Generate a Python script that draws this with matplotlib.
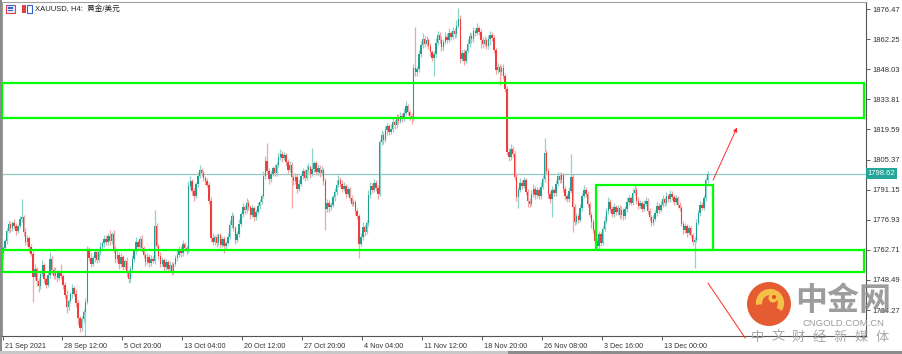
import matplotlib
matplotlib.use('Agg')
import matplotlib.pyplot as plt
from matplotlib.patches import Rectangle, Ellipse, Arc
import matplotlib.transforms as mtransforms

# XAUUSD H4 closes
closes = [
    1763.5, 1767.0, 1771.5, 1774.8, 1772.9, 1775.6, 1774.1, 1771.8, 1773.9, 1777.2,
    1778.4, 1771.0, 1766.3, 1768.2, 1764.0, 1760.8, 1750.1, 1753.5, 1748.2, 1745.6,
    1751.3, 1755.4, 1749.0, 1746.2, 1750.8, 1758.5, 1753.0, 1750.2, 1752.4, 1749.6,
    1751.8, 1750.3, 1746.0, 1741.2, 1735.5, 1738.4, 1741.8, 1744.5, 1742.0, 1737.6,
    1730.5, 1726.0, 1729.8, 1733.5, 1738.0, 1762.5, 1759.0, 1756.2, 1758.7, 1761.5,
    1758.0, 1761.8, 1764.1, 1765.8, 1768.0, 1766.2, 1769.4, 1766.7, 1770.3, 1763.0,
    1758.2, 1760.5, 1756.0, 1759.3, 1754.8, 1757.2, 1752.0, 1749.0, 1753.5, 1758.4,
    1762.0, 1766.2, 1764.0, 1767.8, 1763.5, 1760.1, 1757.0, 1759.4, 1756.3, 1758.5,
    1757.5, 1774.0, 1764.5, 1760.0, 1756.2, 1758.0, 1754.6, 1756.9, 1753.8, 1755.5,
    1752.6, 1756.0, 1758.8, 1760.5, 1763.2, 1761.0, 1765.4, 1763.8, 1762.0, 1793.0,
    1795.2, 1790.5, 1788.0, 1793.6, 1797.8, 1800.3, 1799.0, 1796.5, 1795.0, 1793.5,
    1786.0, 1768.5, 1766.5, 1768.6, 1766.0, 1769.5, 1765.2, 1767.8, 1764.3, 1766.0,
    1769.0, 1774.5, 1778.6, 1773.0, 1767.5, 1770.0, 1775.0, 1779.5, 1783.0, 1781.4,
    1785.0, 1783.0, 1779.2, 1782.4, 1778.0, 1780.6, 1783.5, 1785.5, 1788.0, 1797.8,
    1804.5, 1800.0, 1796.0, 1798.5, 1801.2, 1799.0, 1803.0, 1806.5, 1808.0, 1806.2,
    1807.3, 1804.0, 1800.5, 1803.0, 1797.0, 1795.0, 1797.2, 1791.5, 1794.0, 1797.5,
    1799.8, 1796.8, 1800.5, 1802.0, 1798.6, 1800.9, 1803.5, 1799.5, 1801.6, 1798.8,
    1800.2, 1795.0, 1782.0, 1785.0, 1782.8, 1784.0, 1787.5, 1790.0, 1793.5, 1795.8,
    1794.0, 1791.5, 1793.0, 1789.0, 1791.4, 1787.2, 1784.5, 1785.5, 1781.0, 1778.6,
    1765.5, 1769.0, 1773.5, 1771.0, 1775.5, 1788.5, 1793.0, 1791.2, 1794.5, 1792.0,
    1789.0, 1813.6, 1817.0, 1814.8, 1819.5, 1821.2, 1818.4, 1820.0, 1823.0, 1821.5,
    1825.3, 1823.6, 1826.0, 1824.8, 1827.5, 1830.5, 1828.0, 1826.0, 1824.5, 1848.5,
    1846.5, 1848.0, 1855.0, 1859.5, 1862.5, 1860.0, 1861.8, 1859.0, 1856.0, 1853.5,
    1855.0, 1860.5, 1864.0, 1862.0, 1858.5, 1861.0, 1863.5, 1862.0, 1865.0, 1863.2,
    1866.0, 1864.5, 1868.5, 1872.0, 1853.0, 1855.5, 1852.0, 1856.5, 1860.0, 1863.8,
    1862.2, 1866.0, 1865.0, 1867.5, 1865.5, 1862.0, 1860.0, 1861.8, 1859.0, 1862.5,
    1864.0, 1862.8, 1857.0, 1847.5, 1849.0, 1846.5, 1848.8, 1845.0, 1838.5, 1809.0,
    1806.5, 1810.2, 1808.0, 1797.0, 1787.5, 1791.0, 1794.5, 1792.8, 1795.5, 1790.0,
    1786.0, 1784.5, 1789.0, 1791.6, 1788.5, 1791.0, 1788.0, 1792.5, 1796.0, 1808.5,
    1800.0, 1789.0, 1786.5, 1791.0, 1789.5, 1794.0, 1797.5, 1795.8, 1798.0, 1791.5,
    1788.0, 1786.5, 1790.5, 1797.0, 1783.0, 1776.0, 1778.5, 1777.0, 1782.5, 1788.0,
    1791.2, 1789.0, 1784.5, 1779.0, 1776.0, 1772.0, 1767.0, 1764.5, 1770.0, 1766.0,
    1772.5, 1776.5, 1781.0, 1785.5, 1782.0, 1779.5, 1783.0, 1780.5, 1782.5, 1779.0,
    1781.5, 1778.5, 1782.0, 1785.5, 1787.0, 1785.0, 1789.5, 1791.0, 1786.0, 1783.5,
    1785.0, 1782.0, 1784.5, 1786.0, 1781.0, 1778.0, 1775.5, 1777.5, 1780.0, 1783.5,
    1781.5, 1784.0, 1786.5, 1785.0, 1788.0, 1786.5, 1789.0, 1787.5, 1785.5, 1787.0,
    1784.0, 1782.5, 1775.0, 1772.0, 1774.0, 1770.5, 1772.8, 1769.5, 1766.5, 1767.5,
    1775.5, 1780.0, 1784.0, 1782.5, 1787.0, 1795.5, 1798.6,
]
first_open = 1761.0

# wick lengths above / below the body
up_wick = [
    1.2, 0.8, 1.5, 2.0, 1.1, 0.9, 1.8, 1.3, 0.7, 1.6, 8.5, 1.0, 2.2, 1.4, 0.9, 1.7, 1.2, 2.5, 1.0, 1.3,
    1.8, 2.4, 1.1, 0.8, 1.9, 3.0, 1.2, 1.5, 2.1, 0.9, 1.4, 4.0, 1.0, 1.6, 2.3, 1.1, 0.8, 1.9, 1.3, 2.0,
    1.5, 1.0, 1.8, 1.2, 2.0, 2.0, 1.4, 2.2, 0.9, 1.3, 1.7, 1.1, 2.4, 1.0, 1.5, 1.8, 1.2, 2.5, 0.9, 1.6,
    1.3, 2.0, 1.1, 1.7, 0.8, 1.4, 2.2, 1.0, 1.5, 1.9, 1.2, 2.6, 1.0, 1.4, 1.8, 1.1, 0.9, 1.6, 1.3, 2.0,
    1.2, 7.5, 1.5, 1.0, 1.8, 1.3, 0.9, 1.6, 1.1, 2.0, 1.4, 1.0, 1.7, 2.8, 1.2, 1.5, 1.9, 1.1, 1.3, 2.0,
    2.2, 1.0, 1.6, 1.3, 1.8, 2.5, 1.1, 1.4, 0.9, 1.7, 1.2, 1.5, 2.0, 1.0, 1.8, 1.3, 1.1, 1.6, 1.4, 0.9,
    1.5, 2.4, 1.8, 1.2, 1.0, 1.6, 2.2, 1.3, 1.9, 1.1, 2.0, 1.4, 1.0, 1.7, 1.2, 1.5, 1.8, 1.1, 1.3, 2.0,
    2.4, 8.5, 1.2, 1.6, 1.0, 1.9, 1.4, 2.1, 2.5, 1.3, 1.7, 1.0, 1.5, 1.8, 1.2, 1.0, 1.6, 1.3, 2.0, 1.1,
    1.5, 1.2, 2.2, 1.8, 1.0, 10.0, 1.4, 1.1, 1.6, 1.3, 2.0, 1.0, 1.5, 1.9, 1.2, 1.4, 1.0, 1.7, 2.0, 2.3,
    1.2, 1.5, 1.8, 1.0, 1.4, 1.1, 1.6, 1.3, 0.9, 1.5, 1.2, 1.8, 2.2, 1.0, 1.5, 2.4, 1.8, 1.3, 1.6, 1.1,
    1.4, 1.5, 2.2, 1.3, 1.8, 1.6, 1.1, 2.0, 1.9, 1.2, 1.7, 1.4, 2.0, 1.3, 2.4, 2.6, 1.2, 1.0, 1.5, 1.8,
    19.5, 1.6, 2.3, 2.0, 2.8, 1.4, 1.9, 1.2, 1.6, 1.0, 1.5, 2.2, 2.0, 1.4, 1.8, 1.3, 2.1, 1.5, 2.4, 1.2,
    1.9, 1.5, 2.6, 5.0, 1.8, 1.4, 2.0, 1.3, 2.2, 1.6, 1.2, 2.0, 1.5, 2.4, 1.1, 1.6, 1.3, 1.9, 1.2, 1.7,
    2.0, 1.4, 1.6, 1.2, 2.1, 1.5, 1.3, 1.8, 1.1, 1.6, 1.9, 2.4, 1.5, 1.2, 1.8, 1.4, 2.1, 1.3, 1.7, 1.0,
    1.5, 1.2, 1.8, 2.0, 1.3, 1.6, 1.1, 2.2, 1.9, 7.0, 1.5, 1.2, 1.4, 1.8, 1.1, 1.6, 2.0, 1.3, 1.7, 1.2,
    1.5, 1.0, 1.8, 11.0, 1.4, 1.2, 1.6, 1.1, 1.9, 1.5, 2.2, 1.3, 1.4, 1.0, 1.7, 1.2, 1.5, 1.1, 1.8, 1.3,
    1.6, 2.0, 1.4, 2.2, 1.2, 1.5, 1.8, 1.1, 1.6, 1.3, 1.9, 1.2, 1.5, 2.0, 1.7, 1.3, 2.4, 2.2, 1.2, 1.5,
    1.3, 1.0, 1.6, 1.8, 1.2, 1.4, 1.1, 1.5, 1.3, 1.9, 1.2, 1.6, 2.0, 1.4, 1.8, 1.2, 2.2, 1.5, 1.3, 1.6,
    1.2, 1.4, 1.0, 1.3, 1.6, 1.1, 1.5, 1.2, 1.0, 1.4, 1.8, 1.5, 1.6, 1.2, 1.4, 1.8, 1.5,
]
dn_wick = [
    2.5, 1.0, 1.4, 0.9, 1.8, 1.2, 1.5, 2.0, 1.1, 0.8, 1.3, 1.9, 1.2, 1.6, 2.2, 1.0, 12.0, 1.5, 2.4, 2.8,
    1.3, 1.0, 2.0, 1.6, 1.2, 1.4, 1.8, 1.1, 1.5, 2.2, 1.0, 1.6, 2.0, 1.4, 2.5, 1.2, 1.0, 1.7, 1.3, 1.9,
    3.5, 2.0, 1.5, 1.2, 11.5, 1.0, 1.8, 1.4, 1.1, 1.6, 1.3, 1.0, 1.5, 1.2, 1.8, 1.4, 1.1, 1.6, 1.0, 2.0,
    1.8, 1.2, 2.2, 1.3, 1.6, 1.0, 1.9, 2.0, 1.4, 1.1, 1.5, 1.2, 1.8, 1.0, 1.6, 1.3, 2.1, 1.1, 1.5, 1.4,
    1.2, 1.6, 1.0, 1.8, 1.5, 1.2, 2.0, 1.3, 1.7, 1.1, 1.9, 1.4, 1.0, 1.6, 1.2, 1.5, 1.1, 1.8, 1.3, 1.0,
    1.4, 1.8, 2.2, 1.0, 1.3, 1.1, 1.6, 1.2, 1.5, 1.0, 1.8, 2.0, 1.6, 1.3, 1.9, 1.1, 1.5, 1.2, 3.0, 1.4,
    1.2, 1.0, 1.6, 1.4, 1.9, 1.1, 1.3, 1.0, 1.5, 1.7, 1.2, 1.4, 2.0, 1.1, 1.6, 1.3, 1.0, 1.5, 1.2, 1.0,
    1.5, 1.2, 2.4, 1.3, 1.0, 1.6, 1.2, 1.0, 1.4, 1.8, 1.1, 1.5, 1.7, 1.2, 14.5, 1.6, 1.3, 2.0, 1.2, 1.0,
    1.4, 1.6, 1.1, 1.3, 1.8, 1.0, 1.2, 1.5, 1.3, 1.7, 1.1, 1.6, 10.0, 1.4, 2.0, 1.2, 1.0, 1.5, 1.3, 1.1,
    1.6, 1.4, 1.2, 1.8, 1.0, 1.5, 1.3, 1.1, 1.7, 1.4, 6.5, 1.2, 1.5, 1.8, 1.0, 1.3, 1.1, 1.6, 1.2, 1.4,
    2.5, 1.0, 1.3, 2.0, 1.2, 2.6, 1.5, 1.1, 1.4, 1.7, 1.2, 1.5, 1.0, 1.6, 1.3, 1.1, 1.4, 1.8, 2.2, 1.0,
    1.5, 1.8, 1.2, 1.0, 1.4, 1.6, 1.1, 1.3, 1.9, 1.5, 8.5, 1.2, 1.0, 1.6, 2.0, 1.3, 1.1, 1.5, 1.2, 1.4,
    1.1, 1.6, 1.2, 1.0, 1.8, 1.3, 2.0, 1.2, 1.0, 1.4, 1.6, 1.1, 1.3, 1.0, 1.5, 4.0, 1.8, 1.2, 1.6, 1.3,
    3.0, 1.2, 1.5, 1.8, 1.4, 6.0, 1.3, 1.6, 1.2, 1.5, 1.8, 1.2, 1.6, 1.3, 1.9, 5.0, 1.2, 1.5, 1.1, 1.4,
    3.0, 1.6, 1.2, 1.4, 1.8, 1.1, 1.5, 1.3, 1.0, 1.4, 1.6, 1.8, 1.5, 8.5, 1.2, 1.4, 1.1, 1.6, 1.3, 1.5,
    1.8, 1.2, 1.4, 1.0, 12.0, 1.6, 1.3, 1.5, 1.1, 1.4, 1.0, 1.3, 1.6, 1.2, 3.0, 1.5, 1.8, 1.4, 1.2, 1.6,
    1.1, 1.0, 1.3, 1.2, 1.6, 1.4, 1.1, 1.5, 1.2, 1.8, 1.3, 1.6, 1.0, 1.2, 1.4, 1.1, 1.3, 1.0, 1.5, 1.7,
    1.2, 1.6, 1.0, 1.3, 1.5, 1.8, 1.4, 1.2, 1.1, 1.3, 1.5, 1.0, 1.2, 1.6, 1.1, 1.4, 1.2, 1.3, 1.5, 1.1,
    1.4, 1.6, 1.2, 1.8, 1.3, 1.5, 1.0, 1.4, 1.6, 12.5, 1.2, 1.0, 1.3, 1.1, 1.2, 1.0, 1.3,
]

y_ticks = [1876.47, 1862.25, 1848.03, 1833.81, 1819.59, 1805.37, 1791.15,
           1776.93, 1762.71, 1748.49, 1734.27]
x_tick_bars = [0, 31.5, 63.5, 95.5, 127.5, 159.5, 191.5, 223.5, 255.5, 287.5, 319.5, 351.5]
x_tick_labels = ['21 Sep 2021', '28 Sep 12:00', '5 Oct 20:00', '13 Oct 04:00', '20 Oct 12:00',
                 '27 Oct 20:00', '4 Nov 04:00', '11 Nov 12:00', '18 Nov 20:00', '26 Nov 08:00',
                 '3 Dec 16:00', '13 Dec 00:00']
last_price = 1798.62

# zones drawn on the chart
upper_zone = (1825.0, 1841.5)
lower_zone = (1752.2, 1762.6)
range_box = (316.5, 378.9, 1762.6, 1793.3)

UP = '#20a192'
DN = '#f23b3b'
UP_W = '#8fd3ca'
DN_W = '#f6a3a3'
GREEN = '#00ff00'

W, H = 903, 354
fig = plt.figure(figsize=(W / 100, H / 100), dpi=100)
fig.patch.set_facecolor('white')
ax = fig.add_axes([2 / W, 18 / H, 864 / W, 334 / H])

opens = [first_open] + closes[:-1]
n = len(closes)
xs = list(range(n))
highs = [max(o, c) + u for o, c, u in zip(opens, closes, up_wick)]
lows = [min(o, c) - d for o, c, d in zip(opens, closes, dn_wick)]
body_col = [UP if c >= o else DN for o, c in zip(opens, closes)]
wick_col = [UP_W if c >= o else DN_W for o, c in zip(opens, closes)]

ax.vlines(xs, lows, highs, colors=wick_col, linewidth=0.9, zorder=2)
bottoms = [min(o, c) for o, c in zip(opens, closes)]
heights = [max(abs(c - o), 0.35) for o, c in zip(opens, closes)]
ax.bar(xs, heights, bottom=bottoms, width=0.78, color=body_col, linewidth=0, zorder=3)

ax.set_xlim(-0.5, 460.5)
ax.set_ylim(1722.0, 1879.8)

# current price line + label
ax.axhline(last_price, color='#8fc9c1', linewidth=0.9, zorder=1)
ax.text(1.002, last_price, '%.2f' % last_price, transform=ax.get_yaxis_transform(),
        ha='left', va='center', fontsize=5.5, color='white', family='Liberation Sans',
        bbox=dict(boxstyle='square,pad=0.25', facecolor='#26a69a', edgecolor='none'),
        clip_on=False, zorder=6)

# green zones
for lo, hi in (upper_zone, lower_zone):
    ax.add_patch(Rectangle((-0.3, lo), 459.9, hi - lo, fill=False, edgecolor=GREEN,
                           linewidth=1.6, zorder=5))
x0, x1, y0, y1 = range_box
ax.add_patch(Rectangle((x0, y0), x1 - x0, y1 - y0, fill=False, edgecolor=GREEN,
                       linewidth=1.6, zorder=5))

# red arrows
ax.annotate('', xy=(391.7, 1820.5), xytext=(378.9, 1795.7),
            arrowprops=dict(arrowstyle='-|>', color='#ff2a2a', lw=0.7, mutation_scale=6,
                            shrinkA=0, shrinkB=0), zorder=6)
ax.plot([376.2, 396.0], [1747.0, 1721.1], color='#ff2a2a', lw=0.7, clip_on=False, zorder=6)

# axes styling
ax.yaxis.tick_right()
ax.set_yticks(y_ticks)
ax.set_yticklabels(['%.2f' % v for v in y_ticks])
ax.tick_params(axis='y', direction='out', length=3, width=0.6, color='#444', pad=1.5,
               labelsize=5.5, labelcolor='#333')
ax.set_xticks(x_tick_bars)
ax.set_xticklabels(x_tick_labels, ha='left')
ax.tick_params(axis='x', direction='out', length=3, width=0.6, color='#444', pad=2,
               labelsize=5.2, labelcolor='#333')
offset = mtransforms.ScaledTranslation(2 / 100, 0, fig.dpi_scale_trans)
for lbl in ax.get_xticklabels():
    lbl.set_transform(lbl.get_transform() + offset)
for lbl in ax.get_xticklabels() + ax.get_yticklabels():
    lbl.set_family('Liberation Sans')
for side in ('left', 'top'):
    ax.spines[side].set_color('#a0a0a0')
    ax.spines[side].set_linewidth(0.8)
for side in ('right', 'bottom'):
    ax.spines[side].set_color('#555555')
    ax.spines[side].set_linewidth(0.8)


def fpos(px, py):
    return px / W, 1 - py / H


# window borders
fig.add_artist(Rectangle(fpos(0, H), 2 / W, 1, transform=fig.transFigure,
                         facecolor='#8a8a8a', edgecolor='none'))
fig.add_artist(Rectangle(fpos(0, 354), 1, 3 / H, transform=fig.transFigure,
                         facecolor='#c8c8c8', edgecolor='none'))
fig.add_artist(Rectangle(fpos(508, 354), 395 / W, 3 / H, transform=fig.transFigure,
                         facecolor='#8c8c8c', edgecolor='none'))

# title line with small icons
fig.add_artist(Rectangle(fpos(6, 13), 9 / W, 8 / H, transform=fig.transFigure,
                         facecolor='#e8e8f8', edgecolor='#e04040', linewidth=0.8))
for k in range(3):
    fig.add_artist(Rectangle(fpos(8, 11 - 2.5 * k), 5 / W, 1 / H, transform=fig.transFigure,
                             facecolor='#3060d0', edgecolor='none'))
fig.add_artist(Rectangle(fpos(22, 13), 4 / W, 8 / H, transform=fig.transFigure,
                         facecolor='#e04040', edgecolor='none'))
fig.add_artist(Rectangle(fpos(27, 13), 5 / W, 8 / H, transform=fig.transFigure,
                         facecolor='white', edgecolor='#3060d0', linewidth=0.8))
tx, ty = fpos(35, 9)
fig.text(tx, ty, 'XAUUSD, H4:  黄金/美元', fontsize=5.5, color='#222', va='center',
         family=['Liberation Sans', 'Noto Sans CJK SC'])

# watermark
cx, cy = fpos(769, 304)
fig.add_artist(Ellipse((cx, cy), 44 / W, 44 / H, transform=fig.transFigure,
                       facecolor='#e34a1c', edgecolor='none', alpha=0.9))
fig.add_artist(Arc(fpos(770, 303), 22 / W, 22 / H, theta1=-60, theta2=200,
                   transform=fig.transFigure, color='#f8c54a', linewidth=4.5, alpha=0.95))
fig.add_artist(Ellipse(fpos(773, 298), 9 / W, 9 / H, transform=fig.transFigure,
                       facecolor='#f8c54a', edgecolor='none'))
fig.add_artist(Ellipse(fpos(774, 297), 4 / W, 4 / H, transform=fig.transFigure,
                       facecolor='#e34a1c', edgecolor='none'))
wx, wy = fpos(843, 301)
fig.text(wx, wy, '中金网', fontsize=23, color='#8c8c8c', alpha=0.85, ha='center', va='center',
         family='Noto Sans CJK SC', fontweight='bold')
wx, wy = fpos(843, 323)
fig.text(wx, wy, 'CNGOLD.COM.CN', fontsize=6.8, color='#9a9a9a', ha='center', va='center',
         family='Liberation Sans')
slogan = '中文财经新媒体'
for k, ch in enumerate(slogan):
    wx, wy = fpos(757 + 20.8 * k, 337)
    fig.text(wx, wy, ch, fontsize=9.5, color='#a8a8a8', ha='center', va='center',
             family='Noto Sans CJK SC')

fig.savefig('out.png', dpi=100)
